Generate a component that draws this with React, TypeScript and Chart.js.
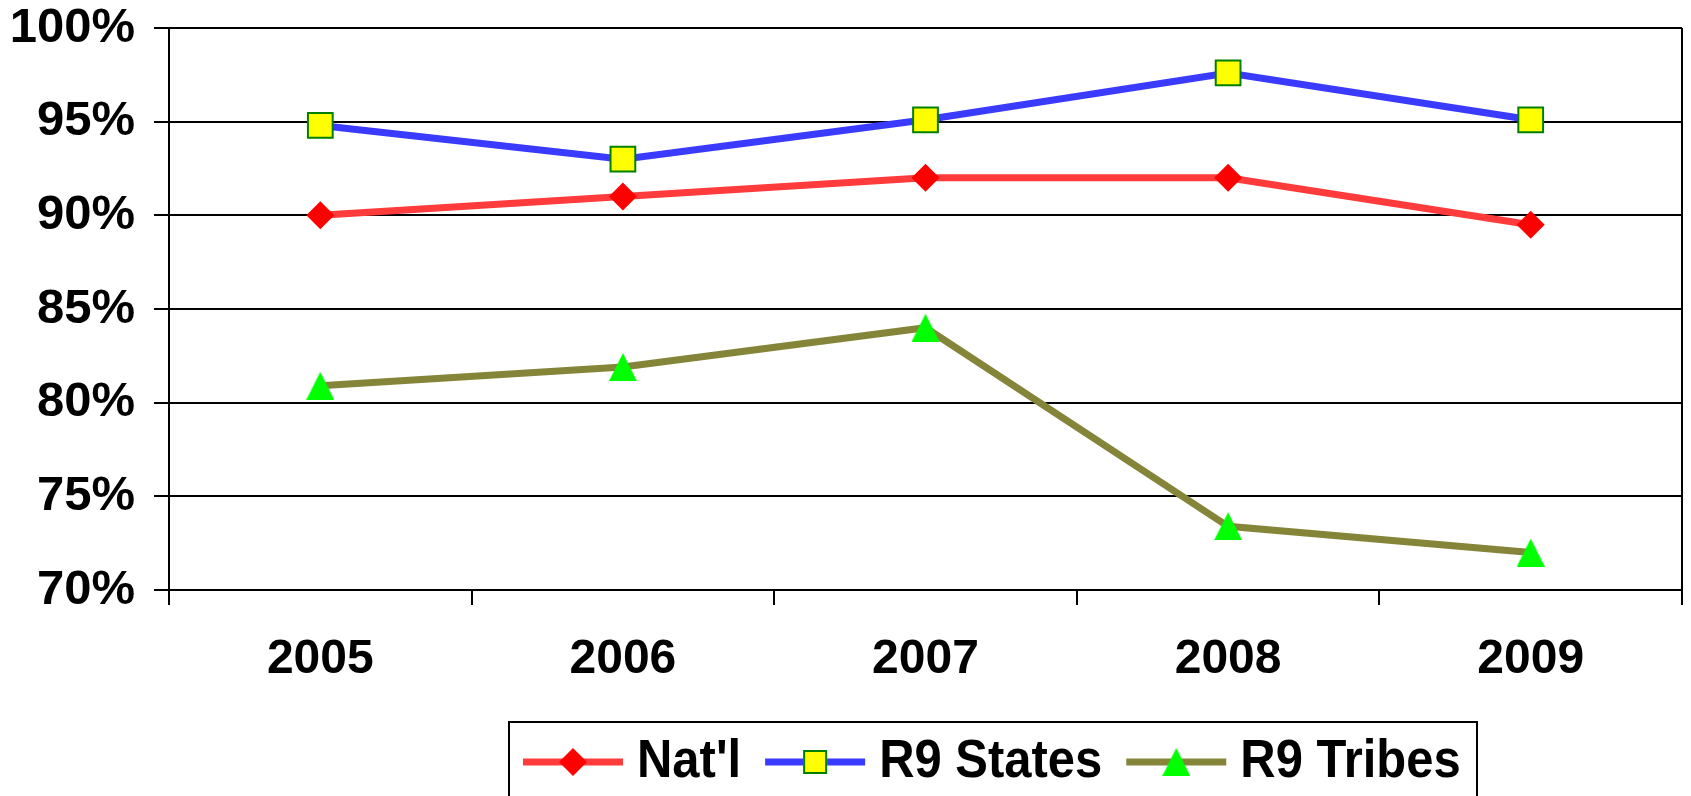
import React, { useEffect, useRef } from "react";
import { Chart, registerables } from "chart.js";

Chart.register(...registerables);

const years = ["2005", "2006", "2007", "2008", "2009"];
const natl = [90.0, 91.0, 92.0, 92.0, 89.5];
const r9States = [94.8, 93.0, 95.1, 97.6, 95.1];
const r9Tribes = [80.9, 81.9, 84.0, 73.4, 72.0];
const yTickValues = [70, 75, 80, 85, 90, 95, 100];
const seriesNames = ["Nat'l", "R9 States", "R9 Tribes"];

const FONT = "'Liberation Sans', Arial, Helvetica, sans-serif";
const RED_LINE = "#FF3B3B";
const BLUE_LINE = "#3B3BFF";
const OLIVE_LINE = "#85853A";

function makeTriangle(w: number, h: number, color: string) {
  const c = document.createElement("canvas");
  c.width = w;
  c.height = h;
  const g = c.getContext("2d")!;
  g.fillStyle = color;
  g.beginPath();
  g.moveTo(w / 2, 0);
  g.lineTo(w, h);
  g.lineTo(0, h);
  g.closePath();
  g.fill();
  return c;
}

export default function App() {
  const ref = useRef<HTMLCanvasElement | null>(null);

  useEffect(() => {
    const canvas = ref.current;
    if (!canvas) return;
    const tri = makeTriangle(28, 28, "#00FF00");

    const frameLine = {
      id: "frameLine",
      beforeDatasetsDraw(chart: any) {
        const { ctx, chartArea } = chart;
        ctx.save();
        ctx.strokeStyle = "#000";
        ctx.lineWidth = 2;
        ctx.beginPath();
        ctx.moveTo(chartArea.right, chartArea.top);
        ctx.lineTo(chartArea.right, chartArea.bottom);
        ctx.stroke();
        ctx.restore();
      },
    };

    const boxLegend = {
      id: "boxLegend",
      afterDraw(chart: any) {
        const ctx = chart.ctx as CanvasRenderingContext2D;
        ctx.save();
        ctx.strokeStyle = "#000";
        ctx.lineWidth = 2;
        ctx.strokeRect(509, 722, 968, 120);
        const y = 762;
        const items = [
          { label: seriesNames[0], color: RED_LINE, marker: "diamond" },
          { label: seriesNames[1], color: BLUE_LINE, marker: "square" },
          { label: seriesNames[2], color: OLIVE_LINE, marker: "triangle" },
        ];
        let x = 523;
        ctx.font = `bold 48px ${FONT}`;
        ctx.textBaseline = "middle";
        ctx.textAlign = "left";
        items.forEach((it) => {
          ctx.strokeStyle = it.color;
          ctx.lineWidth = 7;
          ctx.beginPath();
          ctx.moveTo(x, y);
          ctx.lineTo(x + 100, y);
          ctx.stroke();
          const cx = x + 50;
          if (it.marker === "diamond") {
            ctx.fillStyle = "#FF0000";
            ctx.beginPath();
            ctx.moveTo(cx, y - 14);
            ctx.lineTo(cx + 14, y);
            ctx.lineTo(cx, y + 14);
            ctx.lineTo(cx - 14, y);
            ctx.closePath();
            ctx.fill();
          } else if (it.marker === "square") {
            ctx.fillStyle = "#FFFF00";
            ctx.fillRect(cx - 12, y - 12, 24, 24);
            ctx.strokeStyle = "#008000";
            ctx.lineWidth = 2;
            ctx.strokeRect(cx - 11, y - 11, 22, 22);
          } else {
            ctx.drawImage(tri, cx - 14, y - 14);
          }
          x += 114;
          ctx.fillStyle = "#000";
          ctx.save();
          ctx.translate(x, y);
          ctx.scale(1.02, 1.1);
          ctx.fillText(it.label, 0, 0);
          ctx.restore();
          x += ctx.measureText(it.label).width * 1.02 + 24;
        });
        ctx.restore();
      },
    };

    const chart = new Chart(canvas, {
      type: "line",
      data: {
        labels: years,
        datasets: [
          {
            label: seriesNames[0],
            data: natl,
            borderColor: RED_LINE,
            borderWidth: 7,
            pointStyle: "rectRot",
            pointRadius: 14,
            pointHoverRadius: 14,
            pointBackgroundColor: "#FF0000",
            pointBorderColor: "#FF0000",
            pointBorderWidth: 0,
            tension: 0,
          },
          {
            label: seriesNames[1],
            data: r9States,
            borderColor: BLUE_LINE,
            borderWidth: 7,
            pointStyle: "rect",
            pointRadius: 17.5,
            pointHoverRadius: 17.5,
            pointBackgroundColor: "#FFFF00",
            pointBorderColor: "#008000",
            pointBorderWidth: 2,
            tension: 0,
          },
          {
            label: seriesNames[2],
            data: r9Tribes,
            borderColor: OLIVE_LINE,
            borderWidth: 7,
            pointStyle: tri as any,
            pointRadius: 14,
            pointHoverRadius: 14,
            tension: 0,
          },
        ],
      },
      options: {
        animation: false,
        responsive: false,
        maintainAspectRatio: false,
        events: [],
        layout: { autoPadding: false, padding: { top: 28, right: 9, left: 0, bottom: 0 } },
        plugins: {
          legend: { display: false },
          tooltip: { enabled: false },
          title: { display: false },
        },
        scales: {
          x: {
            type: "category",
            offset: true,
            grid: {
              offset: true,
              drawOnChartArea: false,
              drawTicks: true,
              tickLength: 15,
              color: "#000",
              lineWidth: 2,
            },
            border: { display: true, color: "#000", width: 2 },
            ticks: {
              color: "#000",
              padding: 26,
              maxRotation: 0,
              font: { family: FONT, size: 48, weight: "bold", lineHeight: 1.2 },
            },
            afterFit: (axis: any) => {
              axis.height = 206;
            },
          },
          y: {
            min: 70,
            max: 100,
            afterBuildTicks: (axis: any) => {
              axis.ticks = yTickValues.map((v) => ({ value: v }));
            },
            grid: {
              drawTicks: true,
              tickLength: 15,
              color: "#000",
              lineWidth: 2,
            },
            border: { display: true, color: "#000", width: 2 },
            ticks: {
              color: "#000",
              padding: 19,
              font: { family: FONT, size: 49, weight: "bold", lineHeight: 0.3 },
              callback: (v: any) => `${v}%`,
            },
            afterFit: (axis: any) => {
              axis.width = 169;
              axis.paddingTop = 0;
              axis.paddingBottom = 0;
            },
          },
        },
      },
      plugins: [frameLine, boxLegend],
    });

    return () => chart.destroy();
  }, []);

  return (
    <div
      style={{
        position: "fixed",
        left: 0,
        top: 0,
        width: 1691,
        height: 796,
        background: "#fff",
      }}
    >
      <canvas ref={ref} width={1691} height={796} style={{ width: 1691, height: 796 }} />
    </div>
  );
}
